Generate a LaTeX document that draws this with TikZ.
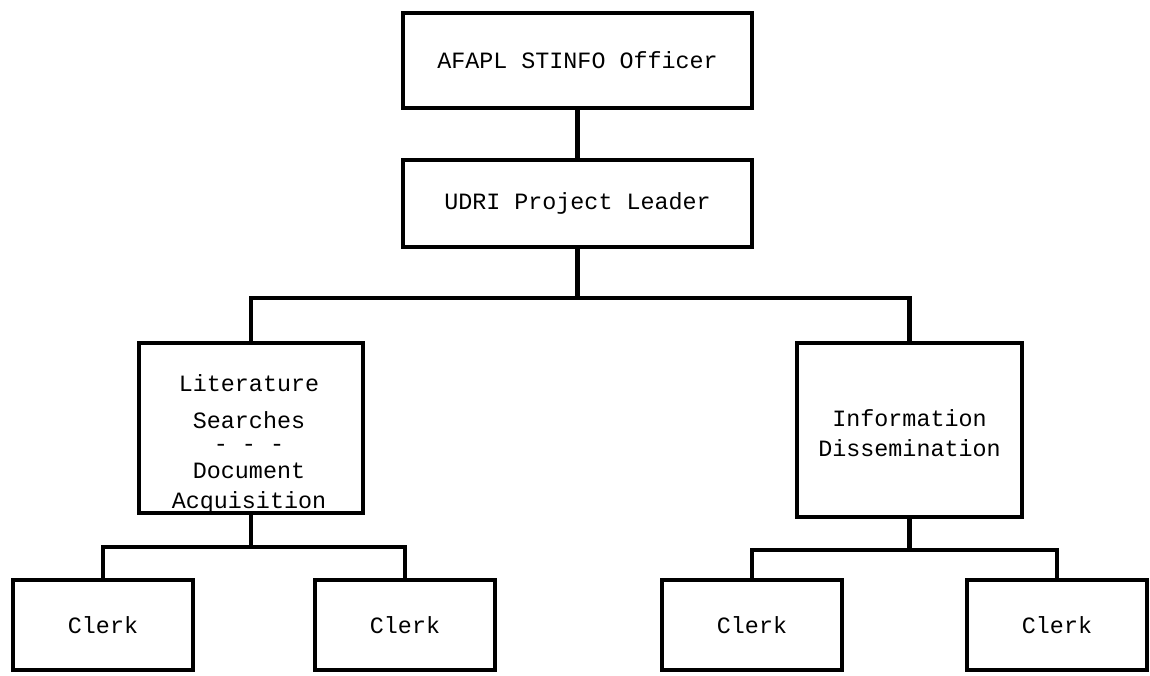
\documentclass[tikz,border=0pt]{standalone}
\usepackage{fontspec}
\setmonofont{Liberation Mono}
\begin{document}
\begin{tikzpicture}[x=0.02cm,y=-0.02cm,
  box/.style={draw=black, line width=2.3pt, rectangle, inner sep=0pt},
  lbl/.style={font=\ttfamily\fontsize{13.3}{17}\selectfont, align=center, inner sep=0pt},
  conn/.style={draw=black, line width=2.3pt, line join=miter}]
\useasboundingbox[fill=white] (0,0) rectangle (1150,676);
% boxes
\node[box, minimum width=6.98cm, minimum height=1.9cm] (stinfo) at (577.5,60.5) {};
\node[box, minimum width=6.98cm, minimum height=1.74cm] (udri) at (577.5,203.5) {};
\node[box, minimum width=4.48cm, minimum height=3.4cm] (lit) at (251,428) {};
\node[box, minimum width=4.5cm, minimum height=3.48cm] (info) at (909.5,430) {};
\node[box, minimum width=3.6cm, minimum height=1.8cm] (c1) at (103,625) {};
\node[box, minimum width=3.6cm, minimum height=1.8cm] (c2) at (405,625) {};
\node[box, minimum width=3.6cm, minimum height=1.8cm] (c3) at (752,625) {};
\node[box, minimum width=3.6cm, minimum height=1.8cm] (c4) at (1057,625) {};
% texts
\node[lbl] (tstinfo) at (stinfo.center) {AFAPL STINFO Officer};
\node[lbl] (tudri) at (udri.center) {UDRI Project Leader};
\node[lbl] (tlit) at (249,444) {Literature\\[4pt]Searches\\[-4pt]- - -\\[-1.5pt]Document\\[0pt]Acquisition};
\node[lbl] (tinfo) at (909.5,433) {Information\\Dissemination};
\node[lbl] (tc1) at (c1.center) {Clerk};
\node[lbl] (tc2) at (c2.center) {Clerk};
\node[lbl] (tc3) at (c3.center) {Clerk};
\node[lbl] (tc4) at (c4.center) {Clerk};
% bus coordinates
\coordinate (hb) at (0,298);
\coordinate (lb) at (0,547);
\coordinate (rb) at (0,550);
% connectors
\draw[conn] (stinfo.south) -- (udri.north);
\draw[conn] (udri.south) -- (udri.south |- hb);
\draw[conn] (lit.north) -- (lit.north |- hb) -- (info.north |- hb) -- (info.north);
\draw[conn] (lit.south) -- (lit.south |- lb);
\draw[conn] (c1.north) -- (c1.north |- lb) -- (c2.north |- lb) -- (c2.north);
\draw[conn] (info.south) -- (info.south |- rb);
\draw[conn] (c3.north) -- (c3.north |- rb) -- (c4.north |- rb) -- (c4.north);
\end{tikzpicture}
\end{document}
